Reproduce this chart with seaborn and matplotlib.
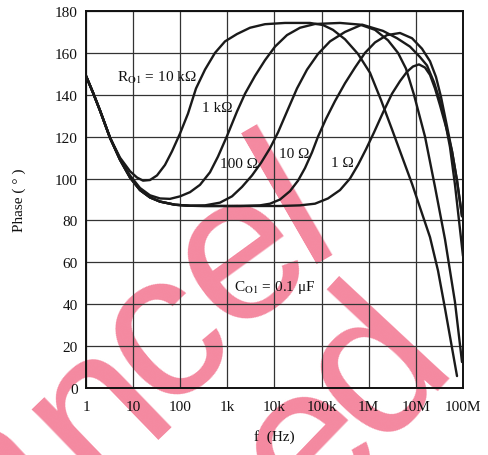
import numpy as np
import pandas as pd
import matplotlib
matplotlib.use("Agg")
import matplotlib.pyplot as plt
import seaborn as sns

# ---- data (log10 of frequency in Hz, phase in degrees) ----
lf_10k = [0, 0.149, 0.297, 0.509, 0.721, 0.934, 1.082, 1.210, 1.358, 1.507, 1.676, 1.825, 1.995, 2.164, 2.334,
          2.525, 2.737, 2.950, 3.204, 3.480, 3.798, 4.223, 4.753, 5.029, 5.241, 5.496, 5.772, 6.027, 6.260,
          6.493, 6.918, 7.300, 7.470, 7.618, 7.873]
ph_10k = [149.0, 141.0, 132.5, 119.5, 110.0, 103.5, 100.5, 99.0, 99.3, 101.5, 106.5, 113.0, 121.5, 131.0, 143.0,
          152.0, 160.0, 165.5, 169.0, 172.0, 173.7, 174.3, 174.3, 173.3, 171.0, 166.5, 159.5, 150.5, 137.5,
          123.5, 97.5, 72.0, 56.0, 38.0, 5.7]

lf_1k = [0, 0.149, 0.297, 0.509, 0.721, 0.934, 1.146, 1.358, 1.570, 1.782, 1.995, 2.207, 2.419, 2.631, 2.801,
         2.992, 3.204, 3.374, 3.586, 3.798, 4.011, 4.265, 4.541, 4.859, 5.390, 5.814, 6.133, 6.409, 6.621,
         6.790, 6.960, 7.194, 7.406, 7.618, 7.830, 7.979]
ph_1k = [149.0, 141.0, 132.5, 119.5, 109.5, 101.5, 95.5, 92.0, 90.5, 90.3, 91.5, 93.5, 97.0, 103.0, 110.5,
         120.3, 132.0, 140.5, 149.0, 156.5, 163.0, 168.5, 172.0, 173.8, 174.3, 173.5, 171.0, 166.0, 160.0,
         152.5, 140.0, 120.0, 96.0, 71.0, 41.0, 12.4]

lf_100 = [0, 0.149, 0.297, 0.509, 0.721, 0.934, 1.146, 1.358, 1.570, 1.889, 2.207, 2.525, 2.843, 3.098, 3.310,
          3.523, 3.714, 3.905, 4.074, 4.265, 4.477, 4.690, 4.923, 5.178, 5.496, 5.857, 6.302, 6.600, 6.875,
          7.088, 7.236, 7.385, 7.512, 7.618, 7.724, 7.830, 7.915, 8.0]
ph_100 = [149.0, 141.0, 132.5, 119.5, 109.0, 100.5, 94.5, 91.0, 89.0, 87.5, 87.0, 87.2, 88.5, 91.5, 96.0,
          101.5, 107.5, 114.5, 122.0, 132.0, 143.0, 152.0, 159.5, 165.5, 170.0, 173.5, 170.5, 167.0, 163.0,
          158.0, 154.0, 146.0, 137.0, 127.5, 115.0, 97.0, 80.0, 63.0]

lf_10 = [0, 0.149, 0.297, 0.509, 0.721, 0.934, 1.146, 1.358, 1.570, 1.889, 2.207, 2.525, 2.843, 3.268, 3.692,
         3.905, 4.117, 4.329, 4.499, 4.647, 4.796, 4.923, 5.093, 5.284, 5.496, 5.708, 5.920, 6.133, 6.387,
         6.663, 6.918, 7.130, 7.300, 7.427, 7.533, 7.660, 7.767, 7.873, 7.979]
ph_10 = [149.0, 141.0, 132.5, 119.5, 109.0, 100.5, 94.5, 91.0, 89.0, 87.5, 87.0, 86.9, 86.9, 86.9, 87.2,
         88.0, 90.0, 94.0, 99.0, 105.0, 112.5, 120.0, 128.5, 137.0, 145.5, 153.0, 160.0, 165.0, 168.5,
         169.5, 167.0, 162.0, 156.0, 148.5, 139.0, 125.0, 113.0, 99.0, 82.0]

lf_1 = [0, 0.149, 0.297, 0.509, 0.721, 0.934, 1.146, 1.358, 1.570, 1.889, 2.207, 2.525, 2.843, 3.480, 4.117,
        4.541, 4.859, 5.135, 5.390, 5.602, 5.772, 5.942, 6.111, 6.302, 6.493, 6.663, 6.812, 6.939, 7.066,
        7.194, 7.300, 7.406, 7.512, 7.660, 7.767, 7.873, 7.979]
ph_1 = [149.0, 141.0, 132.5, 119.5, 109.0, 100.5, 94.5, 91.0, 89.0, 87.5, 87.0, 86.9, 86.9, 86.9, 86.9,
        87.2, 88.0, 90.5, 94.5, 100.0, 106.5, 114.0, 122.0, 131.5, 140.5, 146.5, 151.0, 153.5, 154.5,
        153.0, 149.5, 143.0, 135.0, 123.0, 113.0, 99.0, 82.0]

series_names = ["10k", "1k", "100", "10", "1"]
x_ticks = [1, 10, 100, 1e3, 1e4, 1e5, 1e6, 1e7, 1e8]
x_ticklabels = ["1", "10", "100", "1k", "10k", "100k", "1M", "10M", "100M"]
y_ticks = [0, 20, 40, 60, 80, 100, 120, 140, 160, 180]

frames = []
for name, lf, ph in zip(series_names, [lf_10k, lf_1k, lf_100, lf_10, lf_1],
                        [ph_10k, ph_1k, ph_100, ph_10, ph_1]):
    frames.append(pd.DataFrame({"freq": 10 ** np.array(lf), "phase": ph, "R": name}))
df = pd.concat(frames, ignore_index=True)

# ---- style ----
sns.set_theme(style="white")
plt.rcParams["font.family"] = ["Liberation Serif", "DejaVu Serif"]
plt.rcParams["mathtext.fontset"] = "stix"

W, H = 489, 456
fig = plt.figure(figsize=(W / 100, H / 100), dpi=100)
fig.patch.set_facecolor("white")
ax = fig.add_axes([86 / W, 67 / H, 377 / W, 377 / H])
ax.set_facecolor("none")
ax.set_xscale("log")

sns.lineplot(data=df, x="freq", y="phase", units="R", estimator=None, sort=False,
             color="#1a1a1a", linewidth=1.7, ax=ax, legend=False, zorder=3)

ax.set_xlim(1, 1e8)
ax.set_ylim(0, 180)
ax.set_xticks(x_ticks)
ax.set_xticklabels(x_ticklabels)
ax.xaxis.set_minor_locator(matplotlib.ticker.NullLocator())
ax.set_yticks(y_ticks)
ax.tick_params(axis="both", length=0, labelsize=11, labelcolor="#111111")
ax.tick_params(axis="x", pad=9)
ax.tick_params(axis="y", pad=6)
ax.grid(True, which="major", color="#333333", linewidth=0.9)
for s in ax.spines.values():
    s.set_visible(True)
    s.set_color("#111111")
    s.set_linewidth(1.4)

ax.set_xlabel("f  (Hz)", fontsize=11, labelpad=11, color="#111111")
ax.set_ylabel("Phase ( ° )", fontsize=11, labelpad=21, color="#111111")

tk = dict(fontsize=11, ha="center", va="center", color="#111111", zorder=4)
ax.text(32.1, 148.5, "R$_{\\mathrm{O1}}$ = 10 kΩ", **tk)
ax.text(602, 133.7, "1 kΩ", **tk)
ax.text(1766, 107.4, "100 Ω", **tk)
ax.text(25900, 112.2, "10 Ω", **tk)
ax.text(2.7e5, 107.9, "1 Ω", **tk)
ax.text(10250, 48.7, "C$_{\\mathrm{O1}}$ = 0.1 μF", **tk)

# ---- watermark ----
wm = dict(fontsize=150, family="Liberation Sans", color="#F489A0", rotation_mode="anchor",
          ha="center", va="center", zorder=-1)
letters = [("a", -5, 480, 43), ("n", 98, 410, 44), ("c", 165, 337, 40), ("e", 241, 258, 36),
           ("l", 296, 206, 30), ("e", 310, 447, 46), ("d", 377, 368, 47)]
for ch, px, py, rot in letters:
    fig.text(px / W, 1 - py / H, ch, rotation=rot, **wm)

fig.savefig("out.png", dpi=100)
